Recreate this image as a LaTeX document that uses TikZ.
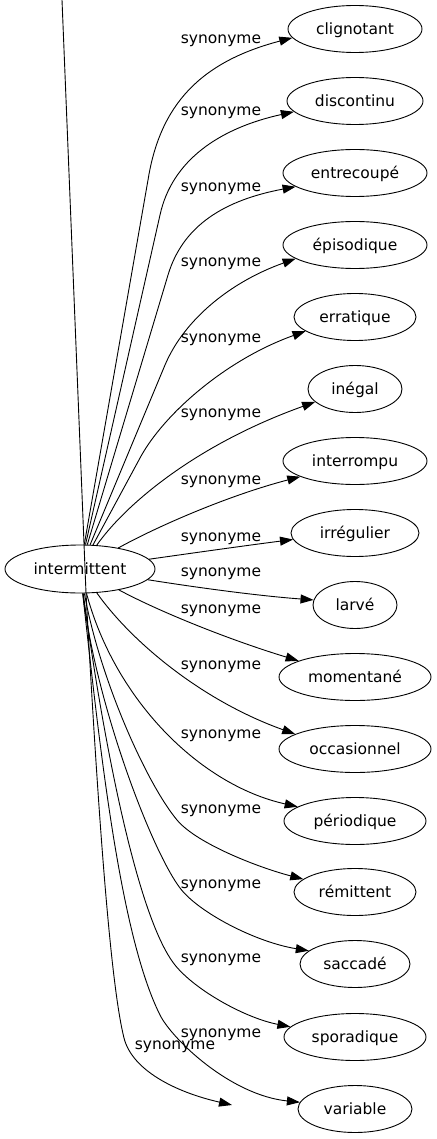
\documentclass[tikz,border=0pt]{standalone}
\usepackage{fontspec}
\setmainfont{DejaVu Sans}
\usetikzlibrary{shapes.geometric,arrows.meta}
\begin{document}
\begin{tikzpicture}[x=1pt,y=-1pt,
  word/.style={ellipse,draw,line width=0.9pt,inner sep=0pt,minimum height=47pt,font=\fontsize{15.5}{18}\selectfont,text height=11.5pt,text depth=0pt},
  lbl/.style={font=\fontsize{15.5}{18}\selectfont,anchor=base,inner sep=0pt},
  conn/.style={line width=0.9pt,-{Triangle[length=13pt,width=9pt]}}]
\useasboundingbox (0,0) rectangle (436,1139);
% nodes
\node[word,minimum width=150pt,minimum height=48pt] (int) at (80,569) {intermittent};
\node[word,minimum width=134pt] (n1) at (355,29) {clignotant};
\node[word,minimum width=136pt] (n2) at (355,101) {discontinu};
\node[word,minimum width=144pt] (n3) at (355,173) {entrecoupé};
\node[word,minimum width=144pt] (n4) at (355,245) {épisodique};
\node[word,minimum width=122pt] (n5) at (355,317) {erratique};
\node[word,minimum width=94pt] (n6) at (355,389) {inégal};
\node[word,minimum width=144pt] (n7) at (355,461) {interrompu};
\node[word,minimum width=128pt] (n8) at (355,533) {irrégulier};
\node[word,minimum width=84pt] (n9) at (355,605) {larvé};
\node[word,minimum width=152pt] (n10) at (355,677) {momentané};
\node[word,minimum width=152pt] (n11) at (355,749) {occasionnel};
\node[word,minimum width=142pt] (n12) at (355,821) {périodique};
\node[word,minimum width=122pt] (n13) at (355,892) {rémittent};
\node[word,minimum width=110pt] (n14) at (355,964) {saccadé};
\node[word,minimum width=142pt] (n15) at (355,1037) {sporadique};
\node[word,minimum width=114pt] (n16) at (355,1109) {variable};
\coordinate (top) at (62,0);
\coordinate (thru) at (86,593);
\coordinate (e) at (232,1105);
% edge labels
\node[lbl] (l1) at (221,44) {synonyme};
\node[lbl] (l2) at (221,116) {synonyme};
\node[lbl] (l3) at (221,192) {synonyme};
\node[lbl] (l4) at (221,267) {synonyme};
\node[lbl] (l5) at (221,342) {synonyme};
\node[lbl] (l6) at (221,417) {synonyme};
\node[lbl] (l7) at (221,484) {synonyme};
\node[lbl] (l8) at (221,541) {synonyme};
\node[lbl] (l9) at (221,576) {synonyme};
\node[lbl] (l10) at (221,613) {synonyme};
\node[lbl] (l11) at (221,669) {synonyme};
\node[lbl] (l12) at (221,738) {synonyme};
\node[lbl] (l13) at (221,813) {synonyme};
\node[lbl] (l14) at (221,888) {synonyme};
\node[lbl] (l15) at (221,962) {synonyme};
\node[lbl] (l16) at (221,1037) {synonyme};
\node[lbl] (l17) at (175,1049) {synonyme};
% connectors
\draw[conn] (int) -- (148,180) .. controls (160,105) and (200,62) .. (n1.188);
\draw[conn] (int) -- (160,215) .. controls (172,160) and (220,128) .. (n2.190);
\draw[conn] (int) -- (168,275) .. controls (183,225) and (225,200) .. (n3.193);
\draw[conn] (int) -- (165,365) .. controls (184,320) and (230,282) .. (n4.193);
\draw[conn] (int) -- (140,458) .. controls (163,415) and (225,360) .. (n5.196);
\draw[conn] (int) .. controls (125,505) and (195,445) .. (n6.198);
\draw[conn] (int) .. controls (160,525) and (230,495) .. (n7.196);
\draw[conn] (int) .. controls (200,552) and (250,545) .. (n8.186);
\draw[conn] (int) .. controls (200,588) and (260,596) .. (n9.173);
\draw[conn] (int) .. controls (160,612) and (230,640) .. (n10.164);
\draw[conn] (int) .. controls (130,640) and (200,700) .. (n11.166);
\draw[conn] (int) .. controls (115,700) and (200,785) .. (n12.166);
\draw[conn] (int) .. controls (100,680) and (147,784) .. (177,820) .. controls (197,844) and (260,868) .. (n13.166);
\draw[conn] (int) .. controls (95,700) and (150,848) .. (180,888) .. controls (198,912) and (255,942) .. (n14.164);
\draw[conn] (int) .. controls (100,720) and (135,915) .. (175,965) .. controls (195,990) and (245,1018) .. (n15.171);
\draw[conn] (int) .. controls (100,750) and (120,935) .. (160,1015) .. controls (172,1039) and (230,1095) .. (n16.173);
\draw[conn] (top) -- (thru) .. controls (100,850) and (112,990) .. (124,1038) .. controls (132,1070) and (175,1092) .. (e);
\end{tikzpicture}
\end{document}
